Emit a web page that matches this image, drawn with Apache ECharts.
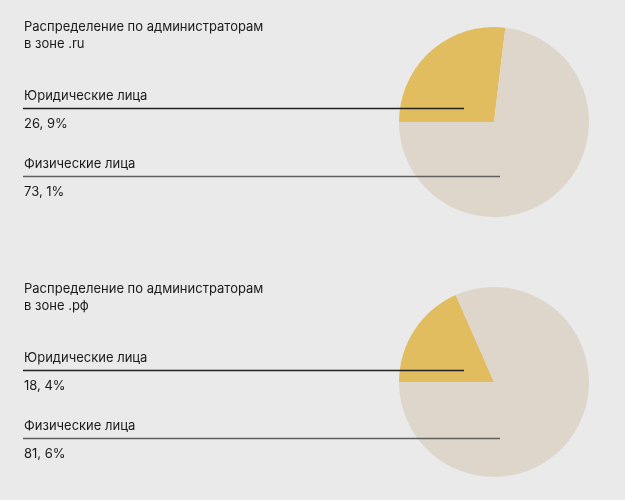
<!DOCTYPE html>
<html>
<head>
    <meta charset="utf-8">
    <title>Распределение по администраторам</title>
    <script src="https://cdn.jsdelivr.net/npm/echarts@6/dist/echarts.min.js"></script>
    <style>
        html, body { margin: 0; padding: 0; background: #eaeaea; }
    </style>
</head>
<body>
<div id="main" style="width: 625px;height:500px;"></div>
<script type="text/javascript">
    // данные
    var zones = ['.ru', '.рф'];
    var categories = ['Юридические лица', 'Физические лица'];
    var ruValues = [26.9, 73.1];
    var rfValues = [18.4, 81.6];
    var ruLabels = ['26, 9%', '73, 1%'];
    var rfLabels = ['18, 4%', '81, 6%'];
    var colors = ['#e1bd5f', '#ded6ca'];

    var myChart = echarts.init(document.getElementById('main'));
    var font = '13px Inter, Roboto, sans-serif';
    var textColor = '#1a1a1a';

    function makeSeries(values, centerY) {
        return {
            type: 'pie',
            silent: true,
            center: [494, centerY],
            radius: 95,
            startAngle: 180,
            clockwise: true,
            label: { show: false },
            labelLine: { show: false },
            itemStyle: { borderWidth: 0 },
            data: values.map(function (v, i) {
                return { name: categories[i], value: v, itemStyle: { color: colors[i] } };
            })
        };
    }

    // текст и линии для одного блока
    function makeBlock(zone, labels, top) {
        var els = [];
        els.push({
            type: 'text', left: 24, top: top - 2,
            style: { text: 'Распределение по администраторам\nв зоне ' + zone, fill: textColor,
                     font: font, lineHeight: 17 }
        });
        var rowTop = [top + 69, top + 137];
        var lineColors = ['#222', '#5f5f5f'];
        for (var i = 0; i < categories.length; i++) {
            els.push({
                type: 'text', left: 24, top: rowTop[i],
                style: { text: categories[i], fill: textColor, font: font }
            });
            var ly = rowTop[i] + 18.5;
            els.push({
                type: 'line',
                shape: { x1: 23, y1: ly, x2: i === 0 ? 464 : 500, y2: ly },
                style: { stroke: lineColors[i], lineWidth: 1.5 },
                z: 10
            });
            els.push({
                type: 'text', left: 24, top: rowTop[i] + 28,
                style: { text: labels[i], fill: textColor, font: font }
            });
        }
        return els;
    }

    var option = {
        backgroundColor: '#eaeaea',
        animation: false,
        series: [makeSeries(ruValues, 122), makeSeries(rfValues, 382)],
        graphic: makeBlock(zones[0], ruLabels, 21)
            .concat(makeBlock(zones[1], rfLabels, 283))
    };

    myChart.setOption(option);
</script>
</body>
</html>
